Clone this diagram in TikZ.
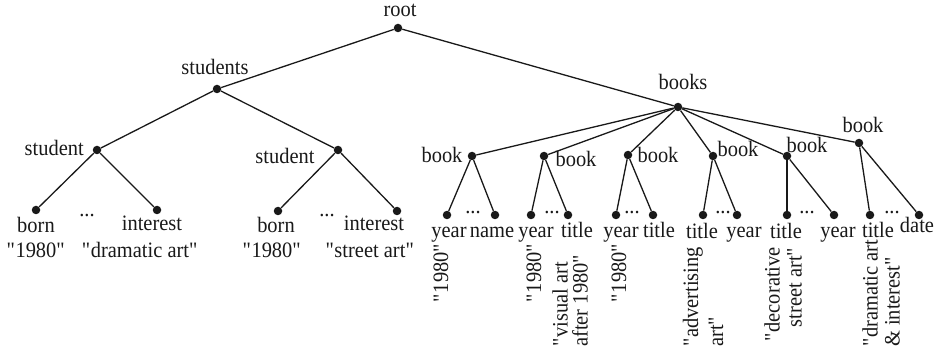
\documentclass[tikz,border=0pt]{standalone}
\usepackage{fontspec}
\setmainfont{Liberation Serif}[FakeStretch=0.93]
\newcommand{\qq}{\textquotedbl}
\begin{document}
\begin{tikzpicture}[x=1pt,y=-1pt,
  dot/.style={circle,fill=black!90,inner sep=0pt,minimum size=8.5pt},
  edge/.style={line width=1.3pt,black!90},
  lab/.style={inner sep=0pt,anchor=base,font={\fontsize{22}{22}\selectfont},text=black!90},
  vlab/.style={inner sep=0pt,rotate=90,font={\fontsize{22}{22}\selectfont},text=black!90},
  ell/.style={lab}]
\useasboundingbox (0,0) rectangle (937,358);
% tree dots
\node[dot] (root) at (398,28) {};
\node[dot] (students) at (217,89) {};
\node[dot] (books) at (678,107) {};
\node[dot] (st1) at (97,150) {};
\node[dot] (st2) at (338,150) {};
\node[dot] (born1) at (36,210) {};
\node[dot] (int1) at (157,210) {};
\node[dot] (born2) at (278,211) {};
\node[dot] (int2) at (397,211) {};
\node[dot] (bk1) at (472,156) {};
\node[dot] (bk2) at (544,156) {};
\node[dot] (bk3) at (628,155) {};
\node[dot] (bk4) at (713,156) {};
\node[dot] (bk5) at (787,156) {};
\node[dot] (bk6) at (859,143) {};
\node[dot] (ya) at (447,215) {};
\node[dot] (na) at (495,215) {};
\node[dot] (yb) at (531,215) {};
\node[dot] (tb) at (568,215) {};
\node[dot] (yc) at (616,215) {};
\node[dot] (tc) at (653,215) {};
\node[dot] (td) at (703,215) {};
\node[dot] (yd) at (737,215) {};
\node[dot] (te) at (787,215) {};
\node[dot] (ye) at (834,215) {};
\node[dot] (tf) at (870,215) {};
\node[dot] (df) at (919,215) {};
% edges
\draw[edge] (root) -- (students);
\draw[edge] (root) -- (books);
\draw[edge] (students) -- (st1);
\draw[edge] (students) -- (st2);
\draw[edge] (st1) -- (born1);
\draw[edge] (st1) -- (int1);
\draw[edge] (st2) -- (born2);
\draw[edge] (st2) -- (int2);
\foreach \b in {bk1,bk2,bk3,bk4,bk5,bk6} {\draw[edge] (books) -- (\b);}
\draw[edge] (bk1) -- (ya); \draw[edge] (bk1) -- (na);
\draw[edge] (bk2) -- (yb); \draw[edge] (bk2) -- (tb);
\draw[edge] (bk3) -- (yc); \draw[edge] (bk3) -- (tc);
\draw[edge] (bk4) -- (td); \draw[edge] (bk4) -- (yd);
\draw[edge] (bk5) -- (te); \draw[edge] (bk5) -- (ye);
\draw[edge] (bk6) -- (tf); \draw[edge] (bk6) -- (df);
% inner labels
\node[lab] (lroot) at (400,17) {root};
\node[lab] (lstudents) at (215,75) {students};
\node[lab] (lbooks) at (683,90) {books};
\node[lab,anchor=base east] (lst1) at (84,156) {student};
\node[lab] (lst2) at (285,164) {student};
\node[lab] (lbk1) at (442,163) {book};
\node[lab] (lbk2) at (576,167) {book};
\node[lab] (lbk3) at (658,163) {book};
\node[lab] (lbk4) at (738,157) {book};
\node[lab] (lbk5) at (807,153) {book};
\node[lab] (lbk6) at (863,133) {book};
% student leaves
\node[lab] (lborn1) at (36,233) {born};
\node[lab] (vborn1) at (36,258) {\qq1980\qq};
\node[ell] (e1) at (87,217) {...};
\node[lab] (lint1) at (152,230) {interest};
\node[lab] (vint1) at (140,258) {\qq dramatic art\qq};
\node[lab] (lborn2) at (276,233) {born};
\node[lab] (vborn2) at (272,258) {\qq1980\qq};
\node[ell] (e2) at (327,217) {...};
\node[lab] (lint2) at (374,230) {interest};
\node[lab] (vint2) at (370,258) {\qq street art\qq};
% book leaves
\node[lab] (lya) at (449,237) {year};
\node[lab] (lna) at (492,237) {name};
\node[lab] (lyb) at (536,237) {year};
\node[lab] (ltb) at (577,237) {title};
\node[lab] (lyc) at (621,237) {year};
\node[lab] (ltc) at (659,237) {title};
\node[lab] (ltd) at (702,239) {title};
\node[lab] (lyd) at (744,237) {year};
\node[lab] (lte) at (786,239) {title};
\node[lab] (lye) at (838,237) {year};
\node[lab] (ltf) at (878,237) {title};
\node[lab] (ldf) at (917,233) {date};
\node[ell] (e3) at (473,214) {...};
\node[ell] (e4) at (552,214) {...};
\node[ell] (e5) at (632,214) {...};
\node[ell] (e6) at (723,214) {...};
\node[ell] (e7) at (807,214) {...};
\node[ell] (e8) at (892,214) {...};
% rotated values
\node[vlab,anchor=east] (vya) at (441,243) {\qq1980\qq};
\node[vlab,anchor=east] (vyb) at (534,243) {\qq1980\qq};
\node[vlab,anchor=west,align=left,font={\fontsize{22}{20}\selectfont}] (vtb) at (570,347) {\qq visual art\\after 1980\qq};
\node[vlab,anchor=east] (vyc) at (619,243) {\qq1980\qq};
\node[vlab,anchor=west,align=left,font={\fontsize{22}{25}\selectfont}] (vtd) at (703,347) {\qq advertising\\art\qq};
\node[vlab,anchor=east,align=right] (vte) at (783,247) {\qq decorative\\street art\qq};
\node[vlab,anchor=west,align=left] (vtf) at (881,347) {\qq dramatic art\\\& interest\qq};
\end{tikzpicture}
\end{document}
